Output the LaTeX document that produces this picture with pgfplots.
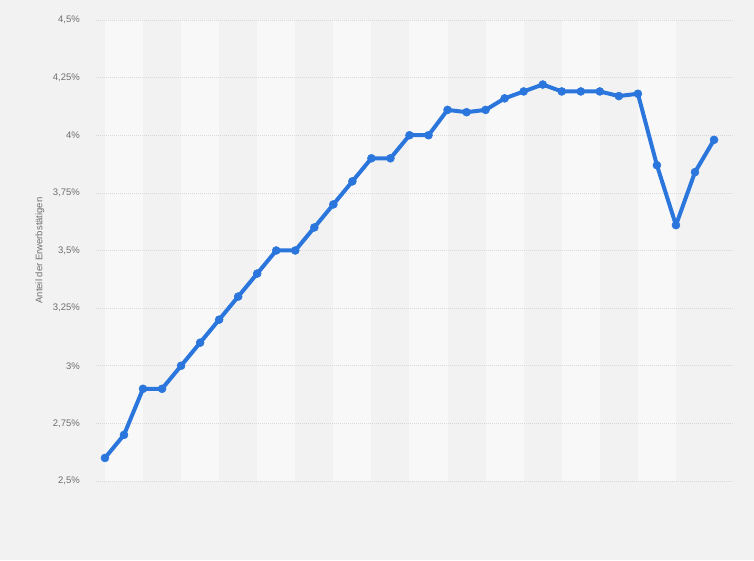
\documentclass[border=0pt]{standalone}
\usepackage{pgfplots}
\pgfplotsset{compat=1.18}
\usepackage{fontspec}
\setmainfont{Liberation Sans}
\definecolor{bg}{HTML}{F2F2F2}
\definecolor{band}{HTML}{F8F8F8}
\definecolor{linec}{HTML}{2A76DD}
\definecolor{gridc}{HTML}{D8D8D8}
\definecolor{txt}{HTML}{6E6E6E}
\begin{document}
\begin{tikzpicture}[x=1pt,y=1pt]
\fill[bg] (0,0) rectangle (754,560);
\begin{axis}[
  at={(96pt,79pt)}, anchor=south west,
  scale only axis, width=638pt, height=461pt,
  xmin=-0.47, xmax=33.05, ymin=2.5, ymax=4.5,
  axis line style={draw=none},
  tick style={draw=none},
  xtick=\empty,
  ytick={2.5,2.75,3,3.25,3.5,3.75,4,4.25,4.5},
  yticklabels={{2,5\%},{2,75\%},{3\%},{3,25\%},{3,5\%},{3,75\%},{4\%},{4,25\%},{4,5\%}},
  yticklabel style={font=\fontsize{9.5}{11}\selectfont, text=txt, anchor=east, inner sep=0pt, xshift=-16pt},
  ylabel={Anteil der Erwerbstätigen},
  ylabel style={font=\fontsize{9.5}{11}\selectfont, text=txt, at={(axis description cs:-0.0878,0.5)}, anchor=center},
  clip=false,
]
\fill[band] (axis cs:0,2.5) rectangle (axis cs:2,4.5);
\fill[band] (axis cs:4,2.5) rectangle (axis cs:6,4.5);
\fill[band] (axis cs:8,2.5) rectangle (axis cs:10,4.5);
\fill[band] (axis cs:12,2.5) rectangle (axis cs:14,4.5);
\fill[band] (axis cs:16,2.5) rectangle (axis cs:18,4.5);
\fill[band] (axis cs:20,2.5) rectangle (axis cs:22,4.5);
\fill[band] (axis cs:24,2.5) rectangle (axis cs:26,4.5);
\fill[band] (axis cs:28,2.5) rectangle (axis cs:30,4.5);
\foreach \yy in {2.5,2.75,3,3.25,3.5,3.75,4,4.25,4.5} {
  \edef\tmp{\noexpand\draw[gridc, line width=0.7pt, dash pattern=on 1pt off 1pt] (axis cs:-0.47,\yy) -- (axis cs:33.05,\yy);}
  \tmp
}
\addplot[linec, line width=4pt, line join=round, mark=*, mark size=4pt, mark options={solid, fill=linec, line width=0.5pt}] coordinates {
(0,2.6) (1,2.7) (2,2.9) (3,2.9) (4,3.0) (5,3.1) (6,3.2) (7,3.3) (8,3.4) (9,3.5)
(10,3.5) (11,3.6) (12,3.7) (13,3.8) (14,3.9) (15,3.9) (16,4.0) (17,4.0) (18,4.11) (19,4.10)
(20,4.11) (21,4.16) (22,4.19) (23,4.22) (24,4.19) (25,4.19) (26,4.19) (27,4.17) (28,4.18) (29,3.87)
(30,3.61) (31,3.84) (32,3.98)
};
\end{axis}
\end{tikzpicture}
\end{document}
